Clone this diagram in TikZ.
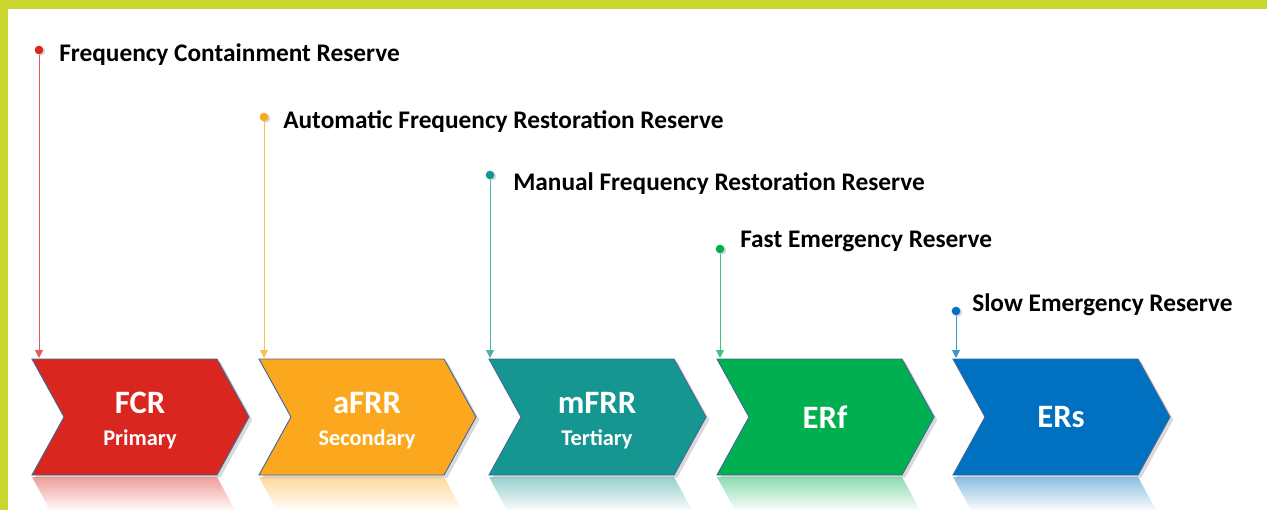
\documentclass[tikz,border=0pt]{standalone}
\usepackage{fontspec}
\setmainfont{Carlito}
\usetikzlibrary{arrows.meta}
\usetikzlibrary{shadows}
\usetikzlibrary{fadings}

\definecolor{framegreen}{RGB}{201,214,46}
\definecolor{fcrred}{RGB}{217,38,30}
\definecolor{afrrorange}{RGB}{252,168,30}
\definecolor{mfrrteal}{RGB}{22,150,144}
\definecolor{erfgreen}{RGB}{0,176,80}
\definecolor{ersblue}{RGB}{0,112,192}
\definecolor{edgeblue}{RGB}{65,104,150}

\tikzfading[name=mirrorfade, top color=transparent!55, bottom color=transparent!100]

\tikzset{
  chevron/.style={draw=edgeblue, line width=0.7pt, fill=#1,
    drop shadow={opacity=0.3, shadow xshift=2.5pt, shadow yshift=-2pt}},
  mainlbl/.style={text=white, font=\bfseries\fontsize{24.5}{26}\selectfont},
  sublbl/.style={text=white, font=\bfseries\fontsize{16.8}{18}\selectfont},
  toplbl/.style={anchor=base west, inner sep=0pt, font=\bfseries\fontsize{19}{22}\selectfont},
  pin/.style={circle, fill=#1, inner sep=0pt, minimum size=6.5pt,
    drop shadow={opacity=0.3, shadow xshift=1.5pt, shadow yshift=-1pt}},
  drop/.style={draw=#1!75, line width=0.6pt, -{Triangle[length=6pt, width=6pt]}},
}

\begin{document}
\begin{tikzpicture}[x=0.75pt, y=-0.75pt]
        \useasboundingbox (0,0) rectangle (1267,510);
        \clip (0,0) rectangle (1267,510);
        \fill[framegreen] (0,0) rectangle (1267,9);
        \fill[framegreen] (0,0) rectangle (8,510);

        \foreach \lft/\col in {32/fcrred, 259/afrrorange, 489/mfrrteal, 717/erfgreen, 953/ersblue} {
          \fill[\col, path fading=mirrorfade] (\lft,477) -- (\lft+185,477) -- (\lft+204,512) -- (\lft+19,512) -- cycle;
          \draw[chevron=\col] (\lft,359) -- (\lft+185,359) -- (\lft+217,417) -- (\lft+185,475) -- (\lft,475) -- (\lft+32,417) -- cycle;
        }

        \foreach \lft/\nm/\main/\sub in {32/fcr/FCR/Primary, 259/afrr/aFRR/Secondary, 489/mfrr/mFRR/Tertiary} {
          \node[mainlbl] (\nm-main) at (\lft+108,403) {\main};
          \node[sublbl] (\nm-sub) at (\lft+108,439) {\sub};
        }
        \foreach \lft/\nm/\main in {717/erf/ERf, 953/ers/ERs} {
          \node[mainlbl] (\nm-main) at (\lft+108,417) {\main};
        }

        \foreach \nm/\col/\px/\py/\tx/\ty/\txt in {
            fcr/fcrred/39/50/59/62/Frequency Containment Reserve,
            afrr/afrrorange/264/117/283/128/Automatic Frequency Restoration Reserve,
            mfrr/mfrrteal/490/175/513/190/Manual Frequency Restoration Reserve,
            erf/erfgreen/720/249/740/247/Fast Emergency Reserve,
            ers/ersblue/956/311/972/311/Slow Emergency Reserve} {
          \node[pin=\col] (\nm-pin) at (\px,\py) {};
          \coordinate (\nm-tip) at (\px,358);
          \draw[drop=\col] (\nm-pin) -- (\nm-tip);
          \node[toplbl] (\nm-lbl) at (\tx,\ty) {\txt};
        }
      \end{tikzpicture}
\end{document}
